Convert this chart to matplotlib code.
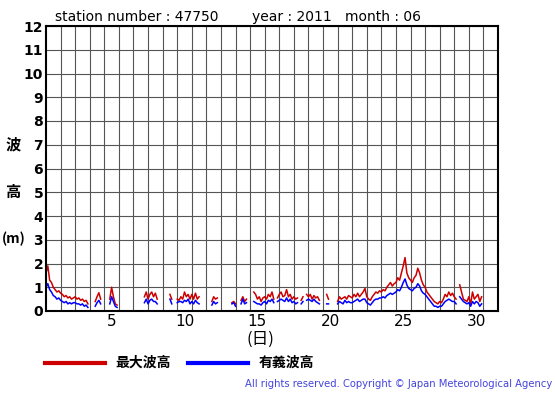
"""Wave height chart for station 47750, June 2011 (3-hourly readings)."""

import matplotlib.pyplot as plt
import numpy as np

plt.rcParams['font.family'] = ['DejaVu Sans', 'Noto Sans CJK JP']

station = '47750'
year = '2011'
month = '06'
n_days = 30
steps_per_day = 8  # 3-hourly readings
day_ticks = [5, 10, 15, 20, 25, 30]
height_ticks = list(range(0, 13))

N = None
# max wave height (m), one row per day, 00h..21h every 3 h
max_wave = [
    [1.6, 1.9, 1.3, 1.2, 1.0, 0.9, 0.8, 0.85],
    [0.75, 0.7, 0.6, 0.65, 0.55, 0.6, 0.5, 0.55],
    [0.6, 0.5, 0.55, 0.45, 0.5, 0.4, 0.45, 0.3],
    [N, N, N, 0.4, 0.6, 0.77, 0.5, N],
    [N, N, N, 0.5, 1.0, 0.6, 0.3, 0.25],
    [N, 0.2, N, 0.2, N, N, N, 0.12],
    [N, N, N, 0.35, N, N, 0.6, 0.8],
    [0.5, 0.7, 0.8, 0.6, 0.75, 0.5, N, N],
    [N, N, N, N, 0.7, 0.5, N, N],
    [0.5, 0.45, 0.6, 0.5, 0.8, 0.6, 0.7, 0.5],
    [0.7, 0.5, 0.75, 0.5, 0.6, N, 0.55, N],
    [0.45, N, N, 0.4, 0.6, 0.5, 0.55, N],
    [N, N, N, N, N, N, 0.35, 0.4],
    [0.3, N, N, 0.45, 0.6, 0.4, 0.5, N],
    [N, N, 0.8, 0.7, 0.5, 0.6, 0.4, 0.55],
    [0.6, 0.5, 0.7, 0.6, 0.8, 0.5, N, 0.55],
    [0.7, 0.8, 0.6, 0.65, 0.9, 0.6, 0.7, 0.5],
    [0.6, 0.5, 0.55, N, 0.45, 0.6, N, 0.7],
    [0.6, 0.7, 0.5, 0.65, 0.55, 0.6, 0.45, N],
    [N, N, 0.7, 0.5, N, N, N, N],
    [0.4, 0.6, 0.5, 0.55, 0.6, 0.5, 0.65, 0.6],
    [0.55, 0.7, 0.6, 0.75, 0.6, 0.7, 0.8, 0.95],
    [0.6, 0.5, 0.45, 0.6, 0.7, 0.8, 0.75, 0.85],
    [0.8, 0.9, 0.85, 1.0, 1.1, 1.2, 1.05, 1.15],
    [1.2, 1.4, 1.3, 1.6, 1.9, 2.25, 1.6, 1.4],
    [1.3, 1.2, 1.4, 1.5, 1.8, 1.6, 1.3, 1.1],
    [1.0, 0.8, 0.7, 0.6, 0.5, 0.4, 0.35, 0.3],
    [0.4, 0.35, 0.5, 0.7, 0.6, 0.8, 0.65, 0.75],
    [0.6, 0.5, N, 1.1, 0.8, 0.5, 0.45, 0.4],
    [0.6, 0.3, 0.8, 0.5, 0.6, 0.7, 0.4, 0.6],
]
# significant wave height (m)
sig_wave = [
    [1.0, 1.15, 0.9, 0.8, 0.65, 0.6, 0.5, 0.55],
    [0.45, 0.4, 0.35, 0.4, 0.3, 0.35, 0.3, 0.35],
    [0.35, 0.3, 0.3, 0.25, 0.3, 0.2, 0.25, 0.15],
    [N, N, N, 0.2, 0.35, 0.45, 0.3, N],
    [N, N, N, 0.3, 0.6, 0.4, 0.2, 0.15],
    [N, 0.1, N, 0.1, N, N, N, 0.08],
    [N, N, N, 0.25, N, N, 0.35, 0.5],
    [0.3, 0.45, 0.5, 0.4, 0.4, 0.3, N, N],
    [N, N, N, N, 0.5, 0.3, N, N],
    [0.35, 0.4, 0.4, 0.35, 0.45, 0.4, 0.5, 0.3],
    [0.4, 0.3, 0.45, 0.35, 0.3, N, 0.4, N],
    [0.3, N, N, 0.25, 0.4, 0.3, 0.35, N],
    [N, N, N, N, N, N, 0.3, 0.35],
    [0.2, N, N, 0.3, 0.5, 0.3, 0.35, N],
    [N, N, 0.4, 0.35, 0.3, 0.3, 0.25, 0.35],
    [0.4, 0.3, 0.45, 0.4, 0.5, 0.35, N, 0.4],
    [0.45, 0.5, 0.45, 0.4, 0.55, 0.4, 0.5, 0.35],
    [0.4, 0.3, 0.35, N, 0.3, 0.4, N, 0.45],
    [0.5, 0.45, 0.4, 0.5, 0.4, 0.35, 0.3, N],
    [N, N, 0.3, 0.3, N, N, N, N],
    [0.3, 0.4, 0.35, 0.3, 0.45, 0.35, 0.4, 0.35],
    [0.35, 0.4, 0.45, 0.5, 0.4, 0.45, 0.5, 0.5],
    [0.35, 0.3, 0.25, 0.35, 0.45, 0.5, 0.5, 0.55],
    [0.55, 0.6, 0.55, 0.65, 0.7, 0.75, 0.7, 0.75],
    [0.8, 0.9, 0.85, 1.0, 1.2, 1.35, 1.1, 0.95],
    [0.9, 0.85, 0.95, 1.0, 1.15, 1.05, 0.85, 0.75],
    [0.7, 0.6, 0.5, 0.4, 0.3, 0.2, 0.2, 0.15],
    [0.2, 0.2, 0.3, 0.4, 0.45, 0.5, 0.45, 0.4],
    [0.4, 0.3, N, 0.6, 0.5, 0.4, 0.35, 0.3],
    [0.35, 0.2, 0.4, 0.3, 0.4, 0.35, 0.2, 0.3],
]


def flatten(rows):
    return np.array([np.nan if v is None else v for row in rows for v in row])


hmax = flatten(max_wave)
hsig = flatten(sig_wave)
t = 1 + np.arange(n_days * steps_per_day) / steps_per_day


def fx(px):
    return px / 555


def fy(py):
    return 1 - py / 395


fig = plt.figure(figsize=(5.55, 3.95), dpi=100)
ax = fig.add_axes([fx(46), fy(311), 452 / 555, 285 / 395])

ax.plot(t, hmax, color='#cc0000', lw=1.1)
ax.plot(t, hsig, color='#0000ff', lw=1.1)

ax.set_xlim(1, 32)
ax.set_ylim(0, 12)
ax.set_xticks(range(2, 32))
ax.set_xticks([d + 0.5 for d in day_ticks], minor=True)
ax.set_xticklabels([str(d) for d in day_ticks], minor=True, fontsize=11)
ax.tick_params(axis='x', which='major', labelbottom=False, length=0)
ax.tick_params(axis='x', which='minor', length=0, pad=2)
ax.set_yticks(height_ticks)
ax.set_yticklabels([str(v) for v in height_ticks], fontsize=10,
                   fontweight='bold')
ax.tick_params(axis='y', length=0, pad=2)
ax.grid(which='major', color='#555555', lw=0.8)
for side in ax.spines.values():
    side.set_linewidth(1.5)

jp = ['Noto Sans CJK JP', 'DejaVu Sans']
fig.text(fx(55), fy(17), f'station number : {station}', fontsize=10,
         va='center')
fig.text(fx(252), fy(17), f'year : {year}', fontsize=10, va='center')
fig.text(fx(345), fy(17), f'month : {month}', fontsize=10, va='center')

fig.text(fx(13), fy(144), '波', family=jp, fontsize=11,
         fontweight='bold', ha='center', va='center')
fig.text(fx(13), fy(192), '高', family=jp, fontsize=11,
         fontweight='bold', ha='center', va='center')
fig.text(fx(14), fy(239), '(m)', family=jp, fontsize=10,
         fontweight='bold', ha='center', va='center')
fig.text(fx(260), fy(339), '(日)', family=jp, fontsize=12,
         ha='center', va='center')

# legend drawn by hand below the axes
fig.add_artist(plt.Line2D([fx(45), fx(105)], [fy(363)] * 2,
                          color='#cc0000', lw=3))
fig.text(fx(115), fy(363), '最大波高', family=jp, fontsize=10,
         fontweight='bold', va='center')
fig.add_artist(plt.Line2D([fx(188), fx(248)], [fy(363)] * 2,
                          color='#0000ff', lw=3))
fig.text(fx(259), fy(363), '有義波高', family=jp, fontsize=10,
         fontweight='bold', va='center')

fig.text(fx(552), fy(384),
         'All rights reserved. Copyright \u00a9 Japan Meteorological Agency',
         fontsize=7.2, color='#4444dd', ha='right', va='center')

fig.savefig('out.png', dpi=100)
plt.close(fig)
